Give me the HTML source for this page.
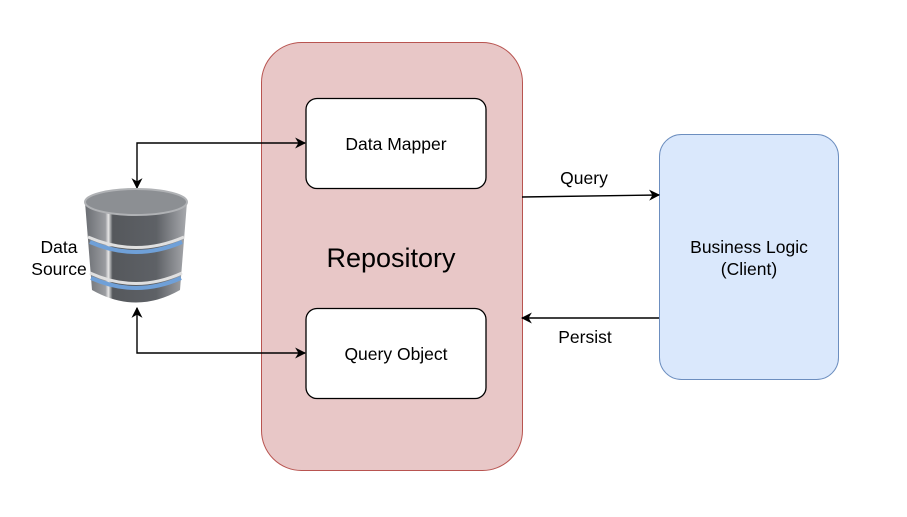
<!DOCTYPE html>
<html><head><style>body{margin:0;background:#fff}</style></head><body>
<svg width="907" height="512" viewBox="0 0 907 512" xmlns="http://www.w3.org/2000/svg" font-family="Liberation Sans, Arial, sans-serif">
<defs>
<marker id="a" viewBox="0 0 10 10" refX="9" refY="5" markerWidth="11" markerHeight="11" markerUnits="userSpaceOnUse" orient="auto-start-reverse"><path d="M0,0 L10,5 L0,10 L3,5 z" fill="#000"/></marker>
<linearGradient id="g" x1="0" x2="1"><stop offset="0" stop-color="#6a6d72"/><stop offset="0.2" stop-color="#9a9ca0"/><stop offset="0.23" stop-color="#e8e8e8"/><stop offset="0.27" stop-color="#55585c"/><stop offset="0.7" stop-color="#5e6166"/><stop offset="1" stop-color="#a8aaae"/></linearGradient>
</defs>
<rect x="261.5" y="42.5" width="261" height="428" rx="40" fill="#e8c7c7" stroke="#b85450"/>
<text x="391" y="267" font-size="27" text-anchor="middle">Repository</text>
<rect x="306" y="98.5" width="180" height="90" rx="11" fill="#fff" stroke="#000" stroke-width="1.3"/>
<text x="396" y="150" font-size="17.5" text-anchor="middle">Data Mapper</text>
<rect x="306" y="308.5" width="180" height="90" rx="11" fill="#fff" stroke="#000" stroke-width="1.3"/>
<text x="396" y="360" font-size="17.5" text-anchor="middle">Query Object</text>
<rect x="659.5" y="134.5" width="179" height="245" rx="22" fill="#dae8fc" stroke="#6c8ebf"/>
<text x="749" y="253" font-size="17.5" text-anchor="middle">Business Logic</text>
<text x="749" y="275" font-size="17.5" text-anchor="middle">(Client)</text>
<text x="59" y="253" font-size="17.5" text-anchor="middle">Data</text>
<text x="59" y="275" font-size="17.5" text-anchor="middle">Source</text>
<text x="584" y="184" font-size="17.5" text-anchor="middle">Query</text>
<text x="585" y="343" font-size="17.5" text-anchor="middle">Persist</text>
<g fill="none" stroke="#000" stroke-width="1.4">
<path d="M137,188 V143 H305" marker-start="url(#a)" marker-end="url(#a)"/>
<path d="M137,308 V353 H305" marker-start="url(#a)" marker-end="url(#a)"/>
<path d="M522,197 L659,195" marker-end="url(#a)"/>
<path d="M659,318 H522" marker-end="url(#a)"/>
</g>
<path d="M85,202 L92,290 Q136,315 180,290 L187,202 Z" fill="url(#g)"/>
<ellipse cx="136" cy="202" rx="51" ry="13" fill="#8c8f93" stroke="#b0b2b5" stroke-width="2"/>
<path d="M88,237 Q136,258 184,237" stroke="#e0e0e0" stroke-width="3" fill="none"/>
<path d="M90,242 Q136,262 182,242" stroke="#6fa0d8" stroke-width="4" fill="none"/>
<path d="M90,273 Q136,294 182,273" stroke="#e0e0e0" stroke-width="3" fill="none"/>
<path d="M91,278 Q136,298 181,278" stroke="#6fa0d8" stroke-width="4" fill="none"/>
</svg>
</body></html>
